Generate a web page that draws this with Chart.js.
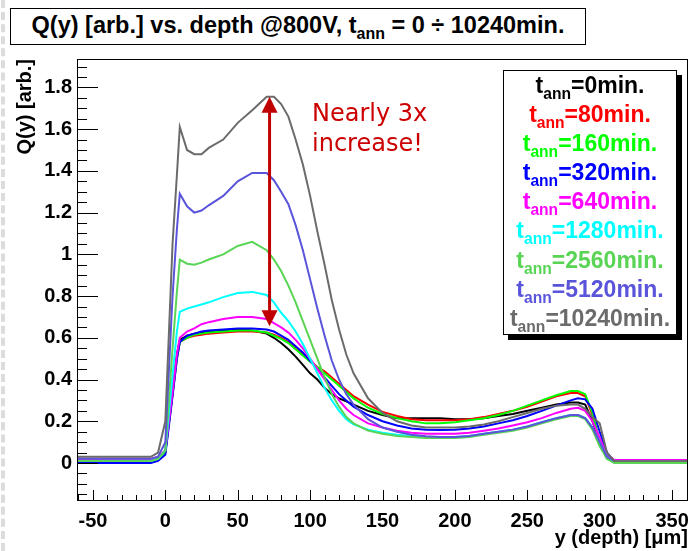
<!DOCTYPE html>
<html lang="en">
<head>
<meta charset="UTF-8">
<title>Q(y) vs. depth @800V</title>
<script src="https://cdn.jsdelivr.net/npm/chart.js@4"></script>
<style>
  body{margin:0;width:691px;height:551px;background:#fff;overflow:hidden;position:relative;font-family:"Liberation Sans",Arial,sans-serif;}
  #c{position:absolute;left:0;top:0;}
  .edge{position:absolute;left:1px;top:0;height:551px;border-left:4px dashed #dcdcdc;}
  .title{position:absolute;left:10px;top:8px;width:574px;height:35px;border:1px solid #000;background:#fff;
    font-weight:bold;font-size:23.5px;text-align:center;line-height:32px;white-space:nowrap;}
  sub{font-size:0.68em;vertical-align:-0.4em;line-height:0;}
  .legend{position:absolute;left:503px;top:70px;width:172px;height:263px;border:1px solid #000;background:#fff;
    box-shadow:5px 5px 0 #000;font-weight:bold;font-size:23px;text-align:center;padding-top:0;}
  .legend div{height:29.1px;line-height:29px;white-space:nowrap;}
  .note{position:absolute;left:312px;top:98px;font-family:"DejaVu Sans",sans-serif;font-size:24px;line-height:30px;color:#cc0000;}
</style>
</head>
<body>
<div class="edge"></div>
<canvas id="c" width="691" height="551"></canvas>
<div class="title">Q(y) [arb.] vs. depth @800V, t<sub>ann</sub> = 0 ÷ 10240min.</div>
<div class="legend" id="legend"></div>
<div class="note">Nearly 3x<br>increase!</div>
<script>
/* ===== Data ===== */
const depth = [-61,-10,-5,0,5,8,10,15,20,25,30,40,50,60,70,75,80,85,90,95,100,105,110,115,120,125,130,140,150,160,170,180,190,200,210,220,230,240,250,260,270,280,285,290,295,300,305,310,320,361];

const q0 = [0.01,0.01,0.02,0.06,0.35,0.52,0.59, 0.61,0.62,0.625,0.63, 0.635,0.64,0.635,0.62, 0.60,0.575,0.545,0.51,0.47,
  0.43,0.40,0.36,0.33,0.31, 0.295,0.28,0.25,0.23,0.215, 0.215,0.215,0.215,0.21,0.21, 0.215,0.225,0.235,0.25,0.265,
  0.28,0.29,0.29,0.28,0.20, 0.10,0.03,0.01,0.01,0.01];
const q80 = [0.01,0.01,0.02,0.05,0.33,0.50,0.58, 0.60,0.61,0.615,0.62, 0.625,0.63,0.63,0.625, 0.615,0.60,0.58,0.55,0.52,
  0.49,0.46,0.44,0.41,0.38, 0.35,0.32,0.28,0.245,0.225, 0.21,0.205,0.205,0.205,0.21, 0.22,0.235,0.25,0.27,0.295,
  0.32,0.335,0.335,0.32,0.23, 0.10,0.03,0.01,0.01,0.01];
const q160 = [0.01,0.01,0.02,0.05,0.33,0.50,0.58, 0.60,0.615,0.62,0.625, 0.63,0.635,0.635,0.625, 0.61,0.595,0.575,0.545,0.515,
  0.485,0.46,0.43,0.40,0.37, 0.34,0.31,0.265,0.235,0.215, 0.20,0.19,0.19,0.195,0.205, 0.215,0.23,0.25,0.275,0.30,
  0.325,0.345,0.345,0.33,0.24, 0.10,0.02,0.005,0.005,0.005];
const q320 = [0.0,0.0,0.01,0.04,0.32,0.50,0.58, 0.61,0.62,0.63,0.635, 0.64,0.645,0.645,0.64, 0.63,0.61,0.59,0.56,0.53,
  0.49,0.45,0.41,0.37,0.33, 0.30,0.27,0.23,0.20,0.18, 0.165,0.16,0.158,0.16,0.165, 0.175,0.19,0.205,0.225,0.25,
  0.275,0.30,0.31,0.305,0.26, 0.15,0.05,0.01,0.01,0.01];
const q640 = [0.02,0.02,0.03,0.06,0.34,0.52,0.60, 0.63,0.645,0.665,0.675, 0.69,0.70,0.70,0.69, 0.67,0.65,0.625,0.59,0.55,
  0.50,0.45,0.40,0.35,0.30, 0.26,0.23,0.19,0.17,0.155, 0.145,0.14,0.14,0.14,0.145, 0.155,0.165,0.18,0.195,0.215,
  0.24,0.26,0.265,0.25,0.20, 0.12,0.04,0.015,0.015,0.015];
const q1280 = [0.01,0.01,0.02,0.06,0.42,0.63,0.725, 0.74,0.75,0.76,0.77, 0.795,0.815,0.82,0.805, 0.77,0.72,0.68,0.63,0.57,
  0.50,0.43,0.36,0.30,0.25, 0.21,0.185,0.16,0.145,0.135, 0.13,0.125,0.125,0.125,0.13, 0.14,0.15,0.16,0.175,0.195,
  0.215,0.23,0.23,0.215,0.17, 0.10,0.03,0.01,0.01,0.01];
const q2560 = [0.01,0.01,0.02,0.06,0.55,0.82,0.975, 0.955,0.95,0.96,0.975, 1.0,1.04,1.06,1.02, 0.975,0.92,0.85,0.77,0.68,
  0.59,0.50,0.41,0.33,0.27, 0.22,0.19,0.155,0.14,0.13, 0.125,0.12,0.12,0.12,0.125, 0.135,0.145,0.155,0.17,0.19,
  0.21,0.225,0.225,0.21,0.16, 0.08,0.02,0.0,0.0,0.0];
const q5120 = [0.02,0.02,0.03,0.10,0.80,1.12,1.29, 1.23,1.20,1.21,1.235, 1.28,1.35,1.39,1.39, 1.355,1.30,1.24,1.14,1.02,
  0.88,0.74,0.61,0.49,0.40, 0.33,0.28,0.21,0.17,0.15, 0.135,0.128,0.125,0.125,0.13, 0.14,0.15,0.16,0.175,0.195,
  0.215,0.23,0.23,0.215,0.17, 0.10,0.03,0.01,0.01,0.01];
const q10240 = [0.03,0.03,0.05,0.20,1.05,1.38,1.61, 1.50,1.48,1.48,1.51, 1.55,1.63,1.69,1.755, 1.755,1.72,1.66,1.55,1.43,
  1.28,1.11,0.95,0.78,0.64, 0.52,0.43,0.31,0.24,0.20, 0.18,0.17,0.17,0.17,0.175, 0.185,0.20,0.22,0.24,0.26,
  0.275,0.28,0.28,0.26,0.22, 0.19,0.05,0.01,0.01,0.01];

const annTimes = ["0","80","160","320","640","1280","2560","5120","10240"];
const series = [q0,q80,q160,q320,q640,q1280,q2560,q5120,q10240];
const colors = ["#000000","#ff0000","#00ff00","#0000ff","#ff00ff","#00ffff","#59d454","#5954d9","#6b6b6b"];

/* arrow end points (depth, Q) */
const arrowX = 72, arrowTop = 1.755, arrowBottom = 0.655;

/* ===== Legend (HTML) ===== */
const legendEl = document.getElementById("legend");
annTimes.forEach((t,i)=>{
  const d = document.createElement("div");
  d.style.color = colors[i];
  d.innerHTML = "t<sub>ann</sub>=" + t + "min.";
  legendEl.appendChild(d);
});

/* ===== ROOT-like frame, inward ticks, arrow ===== */
const rootFrame = {
  id:"rootFrame",
  afterDatasetsDraw(chart){
    const {ctx, chartArea:a, scales:{x,y}} = chart;
    ctx.save();
    ctx.strokeStyle = "#000"; ctx.lineWidth = 1;
    ctx.strokeRect(a.left+0.5, a.top+0.5, a.right-a.left-1, a.bottom-a.top-1);
    ctx.beginPath();
    for(let k=-3;k<=38;k++){
      const p = Math.round(y.getPixelForValue(k*0.05))+0.5;
      if(p<a.top||p>a.bottom) continue;
      ctx.moveTo(a.left, p); ctx.lineTo(a.left+(k%4===0?21:10), p);
    }
    for(let k=-6;k<=36;k++){
      const p = Math.round(x.getPixelForValue(k*10))+0.5;
      if(p<a.left||p>a.right) continue;
      ctx.moveTo(p, a.bottom); ctx.lineTo(p, a.bottom-(k%5===0?11:6));
    }
    ctx.stroke();

    // double arrow
    const ax = x.getPixelForValue(arrowX), y1 = y.getPixelForValue(arrowTop), y2 = y.getPixelForValue(arrowBottom);
    ctx.strokeStyle = ctx.fillStyle = "#c00000";
    ctx.lineWidth = 3;
    ctx.beginPath(); ctx.moveTo(ax, y1+12); ctx.lineTo(ax, y2-12); ctx.stroke();
    ctx.beginPath(); ctx.moveTo(ax, y1); ctx.lineTo(ax-8, y1+16); ctx.lineTo(ax+8, y1+16); ctx.closePath(); ctx.fill();
    ctx.beginPath(); ctx.moveTo(ax, y2); ctx.lineTo(ax-8, y2-16); ctx.lineTo(ax+8, y2-16); ctx.closePath(); ctx.fill();
    ctx.restore();
  }
};

const tickFont = {family:"'Liberation Sans', Arial, sans-serif", size:20, weight:"bold"};

new Chart(document.getElementById("c"), {
  type:"line",
  data:{
    labels: depth,
    datasets: series.map((s,i)=>({
      label: annTimes[i],
      data: s.map((v,j)=>({x:depth[j], y:v})),
      borderColor: colors[i],
      borderWidth: 2,
      pointRadius: 0,
      tension: 0,
      fill: false,
      order: series.length - i
    }))
  },
  options:{
    responsive:false, animation:false, devicePixelRatio:1,
    layout:{padding:{left:0,right:3,top:59,bottom:0}},
    plugins:{legend:{display:false}, tooltip:{enabled:false}},
    scales:{
      x:{
        type:"linear", min:-61, max:361,
        grid:{display:false, drawTicks:false}, border:{display:false},
        ticks:{stepSize:50, includeBounds:false, font:tickFont, color:"#000", padding:8, maxRotation:0, autoSkip:false},
        title:{display:true, text:"y (depth) [μm]", align:"end", font:tickFont, color:"#000", padding:{top:0,bottom:1}},
        afterFit(s){ s.height = 50; s.paddingLeft = 0; s.paddingRight = 0; }
      },
      y:{
        type:"linear", min:-0.182, max:1.936,
        grid:{display:false, drawTicks:false}, border:{display:false},
        ticks:{stepSize:0.2, includeBounds:false, font:tickFont, color:"#000", padding:5,
          callback:v=>{ const r = Math.round(v*10)/10; return Number.isInteger(r) ? String(r) : r.toFixed(1); }},
        title:{display:true, text:"Q(y) [arb.]", align:"end", font:tickFont, color:"#000", padding:{top:13,bottom:0}},
        afterFit(s){ s.width = 77; s.paddingTop = 0; s.paddingBottom = 0; }
      }
    }
  },
  plugins:[rootFrame]
});
</script>
</body>
</html>
